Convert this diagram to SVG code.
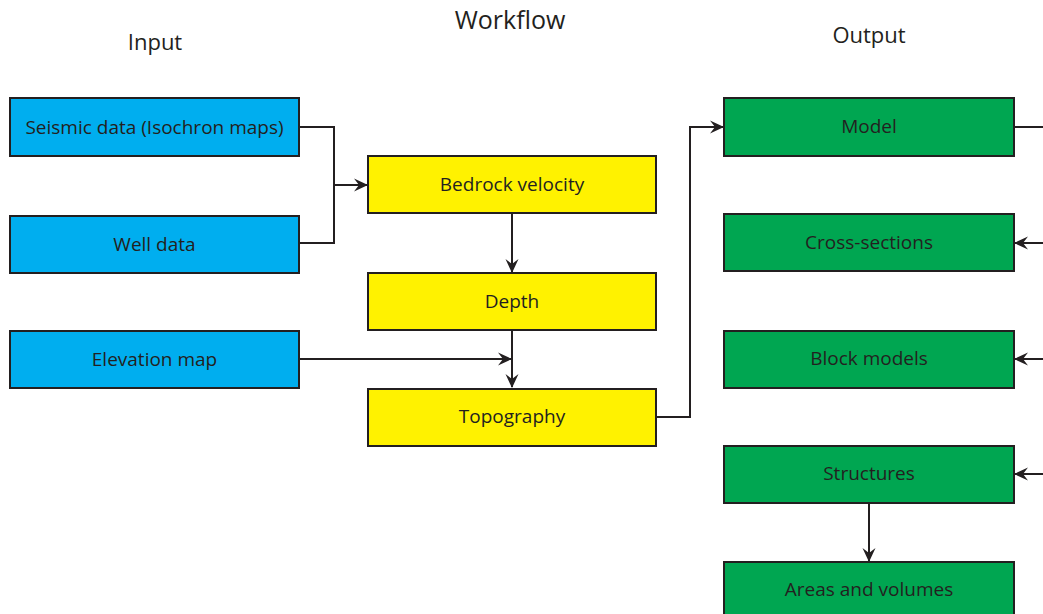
<svg xmlns="http://www.w3.org/2000/svg" width="1043" height="614" viewBox="0 0 1043 614">
<style>
.box{stroke:#231f20;stroke-width:2}
.in{fill:#00aeef}
.wf{fill:#fff200}
.out{fill:#00a651}
.lbl{font-family:"Open Sans","Liberation Sans",sans-serif;font-size:19px;fill:#231f20;text-anchor:middle;dominant-baseline:central}
.title{font-family:"Open Sans","Liberation Sans",sans-serif;fill:#231f20;text-anchor:middle}
.conn{fill:none;stroke:#231f20;stroke-width:2}
</style>
<defs>
<marker id="arr" viewBox="0 0 14 14" refX="13" refY="7" markerWidth="14" markerHeight="14" markerUnits="userSpaceOnUse" orient="auto">
<path d="M0,0.5 L14,7 L0,13.5 L5,7 Z" fill="#231f20"/>
</marker>
</defs>
<rect width="1043" height="614" fill="#ffffff"/>
<text class="title" x="155" y="50" font-size="22">Input</text>
<text class="title" x="510" y="29" font-size="25">Workflow</text>
<text class="title" x="869" y="43" font-size="22">Output</text>

<g id="connectors">
<polyline class="conn" points="299,127 334,127 334,243 299,243"/>
<line class="conn" x1="334" y1="185" x2="367" y2="185" marker-end="url(#arr)"/>
<line class="conn" x1="512" y1="213" x2="512" y2="272" marker-end="url(#arr)"/>
<line class="conn" x1="512" y1="330" x2="512" y2="387" marker-end="url(#arr)"/>
<line class="conn" x1="299" y1="359" x2="511" y2="359" marker-end="url(#arr)"/>
<polyline class="conn" points="656,417 690,417 690,127 723,127" marker-end="url(#arr)"/>
<line class="conn" x1="1014" y1="127" x2="1043" y2="127"/>
<line class="conn" x1="1043" y1="243" x2="1015" y2="243" marker-end="url(#arr)"/>
<line class="conn" x1="1043" y1="359" x2="1015" y2="359" marker-end="url(#arr)"/>
<line class="conn" x1="1043" y1="474" x2="1015" y2="474" marker-end="url(#arr)"/>
<line class="conn" x1="869" y1="503" x2="869" y2="561" marker-end="url(#arr)"/>
</g>

<g id="seismic"><rect class="box in" x="10" y="98" width="289" height="58"/><text class="lbl" x="154.5" y="127">Seismic data (Isochron maps)</text></g>
<g id="well"><rect class="box in" x="10" y="216" width="289" height="57"/><text class="lbl" x="154.5" y="244">Well data</text></g>
<g id="elevation"><rect class="box in" x="10" y="331" width="289" height="57"/><text class="lbl" x="154.5" y="359">Elevation map</text></g>

<g id="bedrock"><rect class="box wf" x="368" y="156" width="288" height="57"/><text class="lbl" x="512" y="184">Bedrock velocity</text></g>
<g id="depth"><rect class="box wf" x="368" y="273" width="288" height="57"/><text class="lbl" x="512" y="301">Depth</text></g>
<g id="topography"><rect class="box wf" x="368" y="389" width="288" height="57"/><text class="lbl" x="512" y="416">Topography</text></g>

<g id="model"><rect class="box out" x="724" y="98" width="290" height="58"/><text class="lbl" x="869" y="126">Model</text></g>
<g id="cross"><rect class="box out" x="724" y="214" width="290" height="57"/><text class="lbl" x="869" y="242">Cross-sections</text></g>
<g id="block"><rect class="box out" x="724" y="331" width="290" height="57"/><text class="lbl" x="869" y="358">Block models</text></g>
<g id="structures"><rect class="box out" x="724" y="446" width="290" height="57"/><text class="lbl" x="869" y="473">Structures</text></g>
<g id="areas"><rect class="box out" x="724" y="562" width="290" height="60"/><text class="lbl" x="869" y="589">Areas and volumes</text></g>
</svg>
